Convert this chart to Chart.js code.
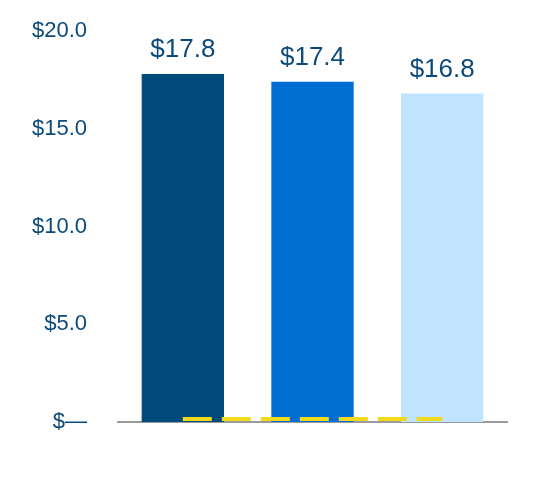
<!DOCTYPE html>
<html>
<head>
<meta charset="utf-8">
<script src="https://cdn.jsdelivr.net/npm/chart.js@4"></script>
<style>
  html, body { margin: 0; padding: 0; background: #fff; }
  #wrap { width: 536px; height: 500px; }
</style>
</head>
<body>
<div id="wrap"><canvas id="myChart" width="536" height="500"></canvas></div>
<script>
// ----------------------- DATA ----------------------- //
var categories = ['A', 'B', 'C'];
var values = [17.8, 17.4, 16.8];
var barColors = ['#004a7c', '#006ed2', '#c0e3ff'];
var baseline = [0.15, 0.15, 0.15];
var tickValues = [0, 5, 10, 15, 20];

var textColor = '#0b4a7b';
var fontFamily = '"Liberation Sans", Arial, sans-serif';

// draws the $xx.x labels above the bars
var barLabels = {
    id: 'barLabels',
    afterDatasetsDraw: (chart) => {
        var ctx = chart.ctx;
        var meta = chart.getDatasetMeta(0);
        ctx.save();
        ctx.fillStyle = textColor;
        ctx.font = '26px ' + fontFamily;
        ctx.textAlign = 'center';
        ctx.textBaseline = 'bottom';
        meta.data.forEach((bar, i) => {
            ctx.fillText('$' + values[i].toFixed(1), bar.x, bar.y - 11);
        });
        ctx.restore();
    }
};

var ctx = document.getElementById('myChart').getContext('2d');
var chart = new Chart(ctx, {
    type: 'bar',
    data: {
        labels: categories,
        datasets: [{
            type: 'bar',
            data: values,
            backgroundColor: barColors,
            borderWidth: 0,
            categoryPercentage: 1,
            barPercentage: 0.635,
            order: 2
        }, {
            type: 'line',
            data: baseline,
            borderColor: '#f2d91a',
            borderWidth: 4,
            borderDash: [29, 10],
            pointRadius: 0,
            fill: false,
            order: 1
        }]
    },
    options: {
        responsive: false,
        animation: false,
        layout: { padding: { top: 31, bottom: 78, left: 0, right: 29 } },
        plugins: {
            legend: { display: false },
            tooltip: { enabled: false }
        },
        scales: {
            x: {
                grid: { display: false, drawTicks: false },
                ticks: { display: false },
                border: { display: true, color: '#9a9a9a', width: 2 },
                afterFit: (scale) => { scale.height = 0; }
            },
            y: {
                min: 0,
                max: 20,
                grid: { display: false, drawTicks: false },
                border: { display: false },
                afterFit: (scale) => {
                    scale.width = 118;
                    scale.paddingTop = 0;
                    scale.paddingBottom = 0;
                },
                afterBuildTicks: (scale) => {
                    scale.ticks = tickValues.map((v) => ({ value: v }));
                },
                ticks: {
                    color: textColor,
                    padding: 31,
                    font: { family: fontFamily, size: 22 },
                    callback: (v) => v === 0 ? '$\u2014' : '$' + Number(v).toFixed(1)
                }
            }
        }
    },
    plugins: [barLabels]
});
</script>
</body>
</html>
